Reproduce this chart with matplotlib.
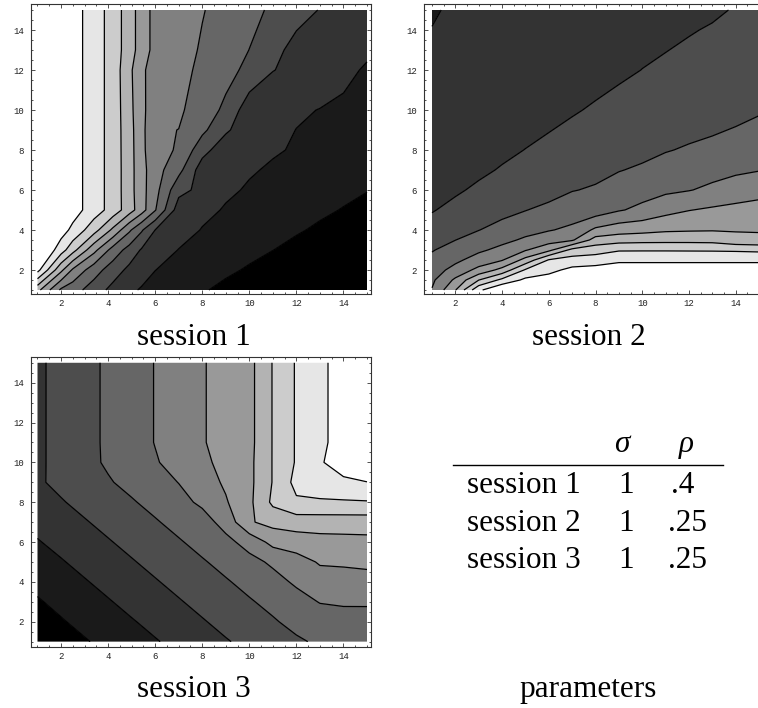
import numpy as np
import matplotlib
matplotlib.use("Agg")
import matplotlib.pyplot as plt
from matplotlib.ticker import FixedLocator, MultipleLocator
from matplotlib.lines import Line2D

W, H = 758, 708

# ---------------- data (grid values) ----------------
# session 1 : rows = s1_y, columns = s1_x
s1_x = [1, 2, 2.5, 3.4, 4.2, 4.9, 5.42, 6, 7, 8, 9, 10, 11, 12, 13, 14, 15]
s1_y = [1, 2, 3, 4, 5, 6, 7, 8, 9, 10, 12, 13, 15]
s1_z = [
    [7.3, 4.82, 4.42, 3.51, 2.70, 2.19, 1.91, 1.73, 1.41, 1.09, 0.77, 0.45, 0.13, -0.19, -0.51, -0.83, -1.15],
    [10.32, 7.24, 5.85, 4.44, 3.49, 2.76, 2.41, 2.01, 1.73, 1.45, 1.17, 0.90, 0.63, 0.35, 0.08, -0.20, -0.47],
    [11.4, 9.45, 8.36, 6.30, 4.61, 3.61, 2.91, 2.55, 1.97, 1.73, 1.49, 1.25, 1.01, 0.76, 0.52, 0.28, 0.04],
    [11.8, 10.44, 9.75, 8.40, 6.80, 5.17, 4.12, 2.99, 2.43, 1.95, 1.73, 1.52, 1.30, 1.09, 0.87, 0.66, 0.44],
    [12.0, 10.97, 10.44, 9.49, 8.60, 7.45, 6.43, 5.07, 2.50, 2.25, 1.92, 1.73, 1.54, 1.34, 1.15, 0.96, 0.76],
    [12.0, 10.97, 10.44, 9.49, 8.60, 7.42, 6.35, 5.35, 3.30, 2.73, 2.15, 1.91, 1.73, 1.56, 1.38, 1.20, 1.03],
    [12.0, 10.97, 10.44, 9.49, 8.60, 7.42, 6.35, 5.40, 4.30, 2.50, 2.30, 2.08, 1.90, 1.76, 1.62, 1.47, 1.33],
    [12.0, 10.97, 10.44, 9.49, 8.60, 7.40, 6.33, 5.13, 4.96, 3.35, 2.40, 2.25, 2.08, 1.93, 1.80, 1.66, 1.52],
    [12.0, 10.97, 10.44, 9.49, 8.60, 7.38, 6.31, 5.11, 4.99, 4.23, 3.15, 2.40, 2.20, 1.99, 1.87, 1.73, 1.59],
    [12.0, 10.97, 10.44, 9.49, 8.60, 7.33, 6.26, 5.40, 5.15, 4.53, 3.79, 2.40, 2.25, 2.10, 1.98, 1.86, 1.73],
    [12.0, 10.97, 10.44, 9.49, 8.60, 7.25, 6.21, 5.50, 5.29, 4.80, 4.32, 3.75, 3.03, 2.74, 2.46, 2.19, 1.91],
    [12.0, 10.97, 10.44, 9.49, 8.60, 7.45, 6.56, 5.65, 5.38, 4.90, 4.45, 3.99, 3.32, 2.65, 2.60, 2.38, 2.13],
    [12.0, 10.97, 10.44, 9.49, 8.60, 7.45, 6.56, 5.65, 5.48, 5.05, 4.66, 4.27, 3.85, 3.38, 2.96, 2.73, 2.51],
]

# session 2 : stored column by column (one list per x in s2_x, values along s2_y)
s2_x = [1, 2, 3, 4, 5, 6, 7, 8, 9, 10, 11, 12, 13, 14, 15]
s2_y = [1, 1.5, 2, 2.5, 3, 3.5, 4, 5, 6, 7, 8, 10, 12, 14, 15]
s2_cols = [
    [5.05, 4.82, 4.52, 4.23, 3.94, 3.69, 3.44, 2.93, 2.88, 2.77, 2.67, 2.45, 2.24, 2.02, 1.91],
    [6.95, 6.18, 5.35, 4.78, 4.38, 3.99, 3.76, 3.30, 2.85, 2.80, 2.75, 2.60, 2.42, 2.24, 2.14],
    [9.80, 7.98, 6.29, 5.43, 4.83, 4.39, 3.98, 3.58, 3.19, 2.79, 2.74, 2.60, 2.45, 2.30, 2.22],
    [11.0, 9.25, 7.33, 5.93, 5.27, 4.75, 4.34, 3.70, 3.45, 3.09, 2.76, 2.68, 2.52, 2.35, 2.27],
    [11.3, 10.22, 9.11, 7.33, 5.92, 5.15, 4.69, 3.97, 3.65, 3.34, 3.02, 2.45, 2.40, 2.30, 2.25],
    [11.07, 10.4, 9.73, 9.07, 6.75, 5.55, 4.94, 4.26, 3.60, 3.45, 3.20, 2.74, 2.55, 2.40, 2.32],
    [11.5, 11.08, 10.25, 9.42, 8.29, 5.87, 5.20, 4.50, 3.96, 3.70, 3.44, 2.91, 2.75, 2.55, 2.45],
    [11.5, 11.24, 10.38, 9.52, 8.56, 7.40, 6.20, 4.45, 4.10, 3.75, 3.60, 3.11, 2.64, 2.55, 2.48],
    [12.0, 11.45, 10.62, 9.78, 8.91, 7.60, 6.56, 4.92, 4.41, 3.96, 3.73, 3.28, 2.84, 2.70, 2.62],
    [12.0, 11.45, 10.62, 9.78, 8.92, 7.67, 6.69, 5.23, 4.61, 4.13, 3.75, 3.43, 3.01, 2.72, 2.65],
    [12.0, 11.45, 10.62, 9.78, 8.92, 7.69, 6.86, 5.68, 4.81, 4.35, 3.95, 3.56, 3.17, 2.78, 2.72],
    [12.0, 11.45, 10.62, 9.78, 8.91, 7.69, 6.91, 5.97, 4.96, 4.53, 4.09, 3.50, 3.20, 2.96, 2.90],
    [12.0, 11.45, 10.62, 9.78, 8.90, 7.66, 6.94, 6.14, 5.19, 4.68, 4.28, 3.48, 3.25, 3.05, 2.91],
    [12.0, 11.45, 10.62, 9.78, 8.87, 7.30, 6.93, 6.26, 5.47, 4.83, 4.45, 3.68, 3.45, 3.15, 3.04],
    [12.0, 11.45, 10.62, 9.78, 8.81, 7.20, 6.93, 6.34, 5.68, 4.96, 4.60, 3.90, 3.63, 3.32, 3.16],
]

# session 3 : rows = s3_y, columns = s3_x
s3_x = [1, 2, 3, 4, 5, 6, 7, 8, 9, 10, 11, 12, 13, 14, 15]
s3_y = [1, 2, 3, 4, 5, 6, 7, 8, 9, 10, 11, 15]
s3_z = [
    [0.25, 0.59, 0.92, 1.26, 1.59, 1.93, 2.26, 2.60, 2.93, 3.24, 3.55, 3.86, 4.15, 4.15, 4.15],
    [0.58, 0.92, 1.26, 1.59, 1.93, 2.26, 2.60, 2.93, 3.26, 3.58, 3.90, 4.28, 4.53, 4.61, 4.59],
    [0.91, 1.25, 1.59, 1.93, 2.27, 2.60, 2.93, 3.26, 3.58, 3.91, 4.27, 4.66, 5.04, 5.12, 5.13],
    [1.25, 1.59, 1.93, 2.27, 2.60, 2.93, 3.26, 3.58, 3.91, 4.29, 4.69, 5.14, 5.58, 5.62, 5.67],
    [1.60, 1.93, 2.27, 2.60, 2.93, 3.26, 3.58, 3.91, 4.30, 4.72, 5.15, 5.61, 6.09, 6.13, 6.20],
    [1.94, 2.27, 2.60, 2.93, 3.26, 3.58, 3.91, 4.31, 4.74, 5.35, 6.30, 6.49, 6.65, 6.69, 6.73],
    [2.27, 2.60, 2.93, 3.26, 3.59, 3.91, 4.31, 4.60, 5.35, 6.90, 7.31, 7.48, 7.48, 7.48, 7.48],
    [2.60, 2.93, 3.26, 3.59, 3.91, 4.30, 4.70, 5.18, 5.91, 6.78, 8.20, 8.85, 8.88, 8.90, 8.93],
    [2.88, 3.22, 3.57, 3.91, 4.28, 4.64, 5.02, 5.56, 6.14, 6.75, 8.05, 9.30, 9.55, 9.75, 9.97],
    [2.84, 3.28, 3.71, 4.13, 4.53, 4.92, 5.35, 5.79, 6.29, 6.75, 8.05, 9.09, 9.87, 10.63, 11.30],
    [2.84, 3.28, 3.71, 4.15, 4.59, 5.03, 5.48, 5.92, 6.39, 6.70, 8.05, 9.09, 9.77, 10.44, 11.10],
    [2.84, 3.28, 3.71, 4.15, 4.59, 5.03, 5.48, 5.92, 6.39, 6.70, 8.05, 9.09, 9.77, 10.44, 11.10],
]

contour_levels = [1, 2, 3, 4, 5, 6, 7, 8, 9, 10]
tick_values = [2, 4, 6, 8, 10, 12, 14]
titles = ["session 1", "session 2", "session 3", "parameters"]

table_header = ["\u03c3", "\u03c1"]
table_rows = ["session 1", "session 2", "session 3"]
table_sigma = ["1", "1", "1"]
table_rho = [".4", ".25", ".25"]

# ---------------- figure ----------------
fig = plt.figure(figsize=(W / 100, H / 100), dpi=100)


def axes_px(left, top, width, height):
    return fig.add_axes([left / W, 1 - (top + height) / H, width / W, height / H])


fill_levels = [-50] + contour_levels + [50]
shades = [str(k / 10) for k in range(11)]   # black ... white (Mathematica gray levels)

panels = [
    (s1_x, s1_y, np.array(s1_z), (31, 4, 340, 290), (0.724, 15.17), (0.8, 15.3)),
    (s2_x, s2_y, np.array(s2_cols).T, (424, 4, 339, 290), (0.657, 15.17), (0.8, 15.3)),
    (s3_x, s3_y, np.array(s3_z), (31, 357, 340, 290), (0.724, 15.17), (0.73, 15.29)),
]

for xs, ys, zs, box, xl, yl in panels:
    ax = axes_px(*box)
    ax.set_facecolor("white")
    ax.contourf(xs, ys, zs, levels=fill_levels, colors=shades, antialiased=True)
    ax.contour(xs, ys, zs, levels=contour_levels, colors="black", linewidths=0.9)
    ax.set_xlim(*xl)
    ax.set_ylim(*yl)
    for axis in (ax.xaxis, ax.yaxis):
        axis.set_major_locator(FixedLocator(tick_values))
        axis.set_minor_locator(MultipleLocator(0.5))
    ax.tick_params(which="both", direction="in", top=True, right=True,
                   width=0.6, color="#333333")
    ax.tick_params(which="major", length=3.2)
    ax.tick_params(which="minor", length=1.6)
    ax.tick_params(axis="x", pad=3.5)
    ax.tick_params(axis="y", pad=5.0)
    ax.tick_params(labelsize=6.5, labelcolor="#222222",
                   labelfontfamily="Liberation Mono")
    for sp in ax.spines.values():
        sp.set_linewidth(0.8)
        sp.set_color("#333333")

serif = "Liberation Serif"
fs = 22.5


def text_px(x, y, s, ha="center", **kw):
    fig.text(x / W, 1 - y / H, s, ha=ha, va="baseline", fontsize=fs,
             family=serif, **kw)


# titles under panels
text_px(193.5, 345, titles[0])
text_px(589, 345, titles[1])
text_px(193.5, 697, titles[2])
text_px(588, 697, titles[3])

# parameter table
text_px(622, 452, table_header[0], style="italic")
text_px(686, 452, table_header[1], style="italic")
fig.add_artist(Line2D([453 / W, 723 / W], [1 - 464.5 / H, 1 - 464.5 / H],
                      transform=fig.transFigure, color="black", linewidth=1.0))
row_base = [493, 531, 568]
rho_x = [682.5, 687.5, 687.5]
for name, sg, rh, yb, rx in zip(table_rows, table_sigma, table_rho, row_base, rho_x):
    text_px(467, yb, name, ha="left")
    text_px(626, yb, sg)
    text_px(rx, yb, rh)

fig.savefig("out.png", dpi=100)
